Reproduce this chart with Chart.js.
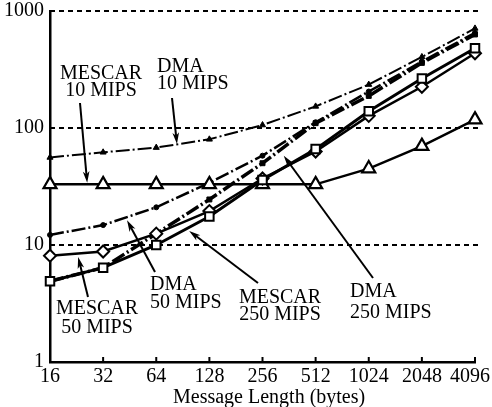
<!DOCTYPE html>
<html><head><meta charset="utf-8">
<script src="https://cdn.jsdelivr.net/npm/chart.js@4.4.1/dist/chart.umd.min.js"></script>
<style>html,body{margin:0;padding:0;background:#fff}#wrap{width:492px;height:407px;position:relative}</style>
</head><body><div id="wrap"><canvas id="c"></canvas></div>
<script>
// ---- data ----
const messageLengths = ['16','32','64','128','256','512','1024','2048','4096'];
const yTickValues = [1, 10, 100, 1000];
const gridValues = [10, 100, 1000];
const mescar10  = [33, 33, 33, 33, 33, 33, 45, 70, 118];
const dma10     = [56, 62, 68, 80, 106, 153, 235, 405, 710];
const mescar50  = [8.1, 8.8, 12.5, 19.5, 37, 63, 127, 225, 435];
const dma50     = [12.2, 14.8, 21, 34, 58, 112, 205, 370, 650];
const mescar250 = [4.9, 6.4, 10, 17.5, 36, 66, 139, 265, 480];
const dma250    = [4.9, 6.4, 12.5, 24.5, 50, 110, 188, 360, 630];
const xTitle = 'Message Length (bytes)';

// ---- annotations (labels with arrows); tip given in data units ----
const notes = [
  {lines:['MESCAR','10 MIPS'], align:'center', x:101, base:[79,96], tail:[80,103], tip:[0.70, 34]},
  {lines:['DMA','10 MIPS'], align:'left', x:157, base:[72,89], tail:[172,98], tip:[2.39, 73]},
  {lines:['MESCAR','50 MIPS'], align:'center', x:97, base:[314,333], tail:[88,297], tip:[0.53, 7.9]},
  {lines:['DMA','50 MIPS'], align:'left', x:150, base:[290,308], tail:[155,272], tip:[1.45, 16.3]},
  {lines:['MESCAR','250 MIPS'], align:'center', x:280, base:[303,320], tail:[258,283], tip:[2.62, 13.2]},
  {lines:['DMA','250 MIPS'], align:'left', x:350, base:[297,318], tail:[373,278], tip:[4.40, 58]}
];

const FONT = '"Liberation Serif", "Times New Roman", serif';
const DASHDOT = [14, 3, 2, 3];

const decorPlugin = {
  id: 'decor',
  beforeDatasetsDraw(chart) {
    const {ctx, chartArea, scales: {x, y}} = chart;
    ctx.save();
    ctx.strokeStyle = '#000';
    ctx.lineWidth = 2;
    ctx.setLineDash([5, 4]);
    gridValues.forEach(v => {
      const py = Math.round(y.getPixelForValue(v));
      ctx.beginPath();
      ctx.moveTo(chartArea.left, py);
      ctx.lineTo(chartArea.right + 7, py);
      ctx.stroke();
    });
    ctx.setLineDash([]);
    ctx.lineWidth = 2;
    messageLengths.forEach((l, i) => {
      if (i === 0) return;
      const px = x.getPixelForValue(i);
      ctx.beginPath();
      ctx.moveTo(px, chartArea.bottom);
      ctx.lineTo(px, chartArea.bottom - 5);
      ctx.stroke();
    });
    ctx.restore();
  },
  afterDatasetsDraw(chart) {
    const {ctx, chartArea, scales: {x, y}} = chart;
    ctx.save();
    ctx.fillStyle = '#000';
    ctx.strokeStyle = '#000';
    ctx.font = '20px ' + FONT;
    ctx.textBaseline = 'alphabetic';
    notes.forEach(n => {
      ctx.textAlign = n.align;
      n.lines.forEach((t, i) => ctx.fillText(t, n.x, n.base[i]));
      const tx = x.getPixelForValue(n.tip[0]);
      const ty = y.getPixelForValue(n.tip[1]);
      const [sx, sy] = n.tail;
      const a = Math.atan2(ty - sy, tx - sx);
      const L = 12, w = 0.28;
      ctx.lineWidth = 2;
      ctx.beginPath();
      ctx.moveTo(sx, sy);
      ctx.lineTo(tx - Math.cos(a) * 6, ty - Math.sin(a) * 6);
      ctx.stroke();
      ctx.beginPath();
      ctx.moveTo(tx, ty);
      ctx.lineTo(tx - L * Math.cos(a - w), ty - L * Math.sin(a - w));
      ctx.lineTo(tx - L * 0.7 * Math.cos(a), ty - L * 0.7 * Math.sin(a));
      ctx.lineTo(tx - L * Math.cos(a + w), ty - L * Math.sin(a + w));
      ctx.closePath();
      ctx.fill();
    });
    ctx.textAlign = 'left';
    ctx.fillText(xTitle, 173, 403);
    ctx.restore();
  }
};

function ds(label, data, opts) {
  return Object.assign({label, data, borderColor:'#000', pointBorderColor:'#000', tension:0, fill:false}, opts);
}

const datasets = [
  ds('MESCAR 250 MIPS', mescar250, {borderWidth:3, pointStyle:'rect', pointRadius:6, pointBackgroundColor:'#fff', pointBorderWidth:2}),
  ds('MESCAR 50 MIPS', mescar50, {borderWidth:2.5, pointStyle:'rectRot', pointRadius:6, pointBackgroundColor:'#fff', pointBorderWidth:2}),
  ds('MESCAR 10 MIPS', mescar10, {borderWidth:2.5, pointStyle:'triangle', pointRadius:7.5, pointBackgroundColor:'#fff', pointBorderWidth:2.2}),
  ds('DMA 250 MIPS', dma250, {borderWidth:3.5, borderDash:DASHDOT, pointStyle:'rect', pointRadius:3.5, pointBackgroundColor:'#000', pointBorderWidth:1}),
  ds('DMA 50 MIPS', dma50, {borderWidth:2.5, borderDash:DASHDOT, pointStyle:'circle', pointRadius:2.5, pointBackgroundColor:'#000', pointBorderWidth:1}),
  ds('DMA 10 MIPS', dma10, {borderWidth:2, borderDash:DASHDOT, pointStyle:'triangle', pointRadius:3.5, pointBackgroundColor:'#000', pointBorderWidth:1})
];

new Chart(document.getElementById('c'), {
  type: 'line',
  data: {labels: messageLengths, datasets},
  options: {
    responsive: true,
    maintainAspectRatio: false,
    animation: false,
    devicePixelRatio: 1,
    layout: {padding: {left: 0, right: 17, top: 11, bottom: 0}},
    plugins: {legend: {display: false}, tooltip: {enabled: false}},
    scales: {
      x: {
        type: 'category',
        offset: false,
        grid: {display: false, drawTicks: false},
        border: {display: true, color: '#000', width: 2.5},
        ticks: {
          color: '#000', font: {family: FONT, size: 20}, padding: 3, maxRotation: 0, autoSkip: false,
          callback: (v, i) => i === messageLengths.length - 1 ? messageLengths[i] + '\u2002' : messageLengths[i]
        },
        afterFit(s) { s.height = 45; s.paddingLeft = 0; s.paddingRight = 0; }
      },
      y: {
        type: 'logarithmic',
        min: 1, max: 1000,
        grid: {display: false, drawTicks: false},
        border: {display: true, color: '#000', width: 2.5},
        afterBuildTicks(s) { s.ticks = yTickValues.map(v => ({value: v})); },
        ticks: {color: '#000', font: {family: FONT, size: 20}, padding: 6, callback: v => String(v)},
        afterFit(s) { s.width = 50; s.paddingTop = 0; s.paddingBottom = 0; }
      }
    }
  },
  plugins: [decorPlugin]
});
</script>
</body></html>
